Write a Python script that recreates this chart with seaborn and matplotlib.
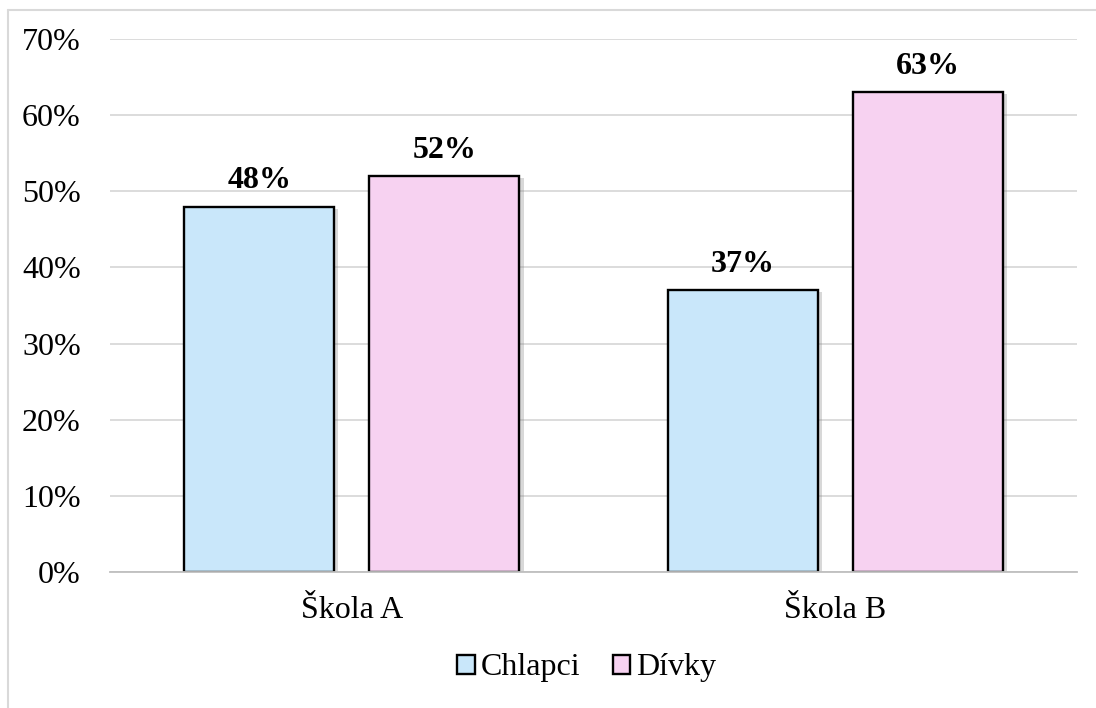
import pandas as pd
import numpy as np
import seaborn as sns
from matplotlib import pyplot as plt
from matplotlib import patheffects as pe
from matplotlib.lines import Line2D
from matplotlib.ticker import PercentFormatter

schools = ["Škola A", "Škola B"]
groups = ["Chlapci", "Dívky"]
chlapci = [48, 37]
divky = [52, 63]
colors = ["#C9E7FA", "#F7D2F1"]

df = pd.DataFrame({
    "school": schools * 2,
    "group": [groups[0]] * 2 + [groups[1]] * 2,
    "value": chlapci + divky,
})

sns.set_theme(style="white")
plt.rcParams['font.family'] = ['Liberation Serif', 'DejaVu Serif']
plt.rcParams['text.color'] = 'black'
plt.rcParams['xtick.color'] = 'black'
plt.rcParams['ytick.color'] = 'black'

FS = 23

fig = plt.figure(figsize=(10.96, 7.08), dpi=100)
ax = fig.add_axes([0.1004, 0.1921, 0.8823, 0.7528])

sns.barplot(data=df, x="school", y="value", hue="group", palette=colors,
            width=0.766, gap=0.19, edgecolor="black", linewidth=1.7,
            saturation=1, ax=ax)

# soft shadow like the office chart
for bar in ax.patches:
    bar.set_path_effects([pe.SimplePatchShadow(offset=(3, -1.5), alpha=0.3,
                                                shadow_rgbFace="gray"),
                          pe.Normal()])

for cont in ax.containers:
    ax.bar_label(cont, labels=[f"{v:.0f}%" for v in cont.datavalues],
                 padding=8, fontsize=FS, fontweight="bold", color="black")

ax.set_ylim(0, 70)
ax.set_xlim(-0.5, 1.5)
ax.set_yticks(np.arange(0, 71, 10))
ax.yaxis.set_major_formatter(PercentFormatter(decimals=0))
ax.grid(axis="y", color="#D9D9D9", linewidth=1.3)
ax.set_axisbelow(True)
for s in ["top", "right", "left"]:
    ax.spines[s].set_visible(False)
ax.spines["bottom"].set_color("#BFBFBF")
ax.spines["bottom"].set_linewidth(1.3)
ax.tick_params(axis="y", labelsize=FS, pad=21, length=0)
ax.tick_params(axis="x", labelsize=FS, pad=17, length=0)
ax.set_xlabel("")
ax.set_ylabel("")

leg = ax.legend(loc="center", bbox_to_anchor=(0.493, -0.18), ncol=2,
                frameon=False, fontsize=FS, handlelength=0.55, handleheight=0.55,
                handletextpad=0.2, columnspacing=1.0)
for h in leg.legend_handles:
    h.set_edgecolor("black")
    h.set_linewidth(1.7)
    h.set_path_effects([])

# chart frame (only top and left edges fall inside the image)
fig.add_artist(Line2D([8 / 1096, 1.0], [1 - 10 / 708] * 2, color="#D9D9D9",
                      linewidth=1.5, transform=fig.transFigure))
fig.add_artist(Line2D([8 / 1096] * 2, [0.0, 1 - 10 / 708], color="#D9D9D9",
                      linewidth=1.5, transform=fig.transFigure))

fig.savefig("out.png", dpi=100)
